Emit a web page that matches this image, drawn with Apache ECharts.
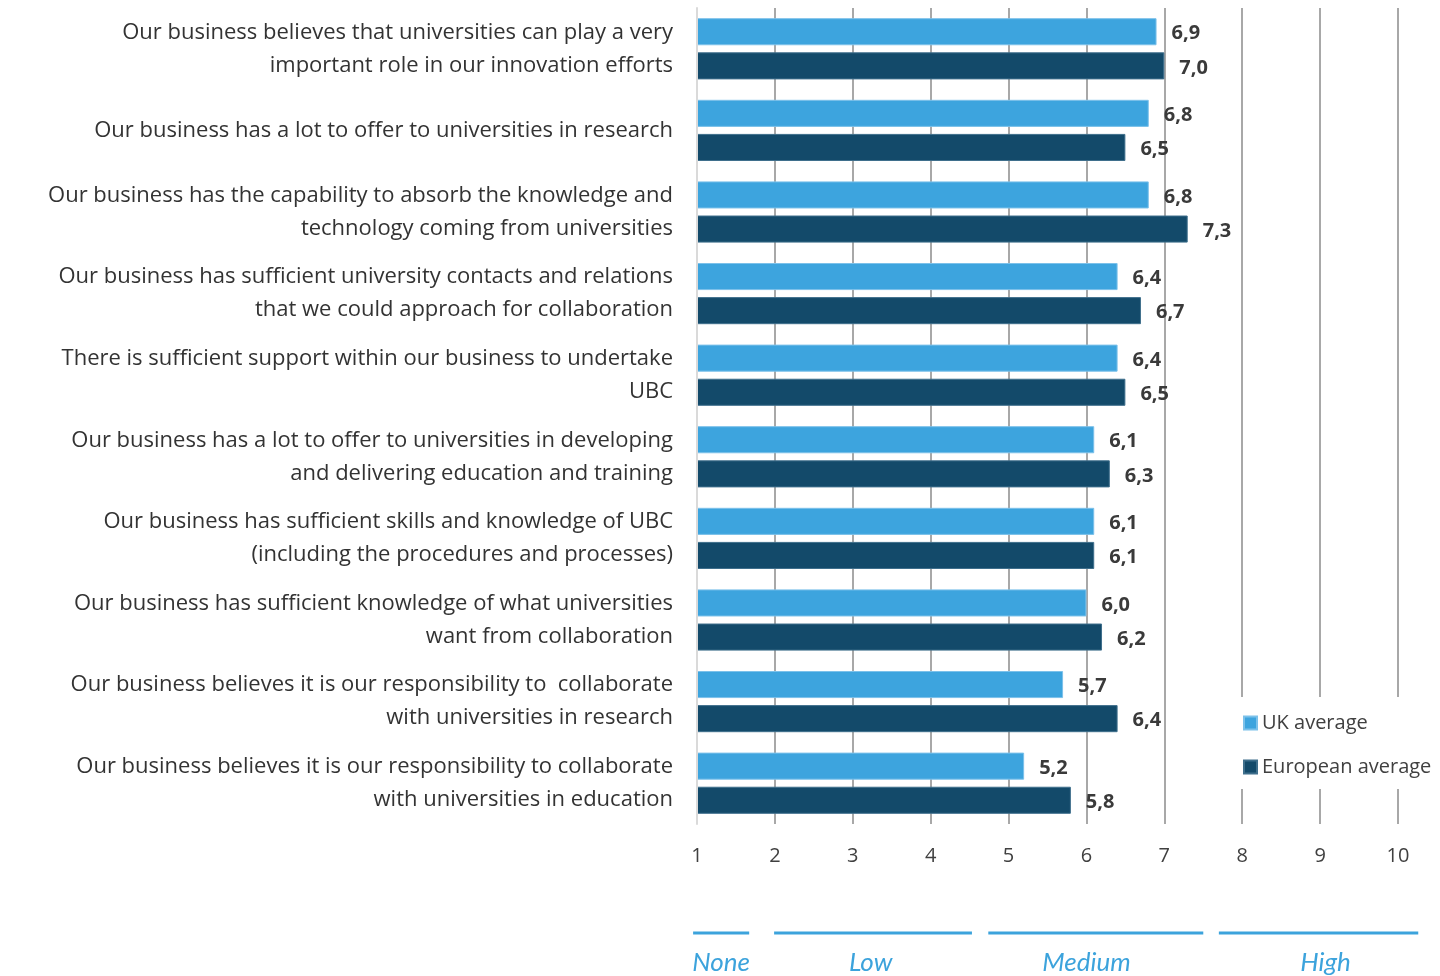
<!DOCTYPE html>
<html>
<head>
<meta charset="utf-8">
<script src="https://cdn.jsdelivr.net/npm/echarts@6/dist/echarts.min.js"></script>
<style>
  html, body { margin: 0; padding: 0; background: #fff; }
  #chart { width: 1440px; height: 976px; }
</style>
</head>
<body>
<div id="chart"></div>
<script>
// Survey statements (top to bottom)
const categories = [
  'Our business believes that universities can play a very\nimportant role in our innovation efforts',
  'Our business has a lot to offer to universities in research',
  'Our business has the capability to absorb the knowledge and\ntechnology coming from universities',
  'Our business has sufficient university contacts and relations\nthat we could approach for collaboration',
  'There is sufficient support within our business to undertake\nUBC',
  'Our business has a lot to offer to universities in developing\nand delivering education and training',
  'Our business has sufficient skills and knowledge of UBC\n(including the procedures and processes)',
  'Our business has sufficient knowledge of what universities\nwant from collaboration',
  'Our business believes it is our responsibility to  collaborate\nwith universities in research',
  'Our business believes it is our responsibility to collaborate\nwith universities in education'
];

const seriesNames = ['UK average', 'European average'];
const ukAverage = [6.9, 6.8, 6.8, 6.4, 6.4, 6.1, 6.1, 6.0, 5.7, 5.2];
const europeanAverage = [7.0, 6.5, 7.3, 6.7, 6.5, 6.3, 6.1, 6.2, 6.4, 5.8];

// Scale 1–10 and its verbal bands shown under the axis
const scaleTicks = [1, 2, 3, 4, 5, 6, 7, 8, 9, 10];
const bandNames = ['None', 'Low', 'Medium', 'High'];
const bandFrom = [0.95, 1.99, 4.74, 7.7];
const bandTo = [1.67, 4.53, 7.5, 10.26];
const bandLabelAt = [1.31, 3.23, 6.0, 9.07];

const FONT = 'Lato, "Noto Sans", sans-serif';
const TEXT_FONT = '"Open Sans", Lato, sans-serif';
const chart = echarts.init(document.getElementById('chart'), null, { renderer: 'canvas' });

const valueLabel = {
  show: true,
  position: 'right',
  distance: 15,
  offset: [0, 2],
  fontFamily: TEXT_FONT,
  fontSize: 20,
  fontWeight: 'bold',
  color: '#3a3a3a',
  formatter: p => p.value.toFixed(1).replace('.', ',')
};

chart.setOption({
  animation: false,
  textStyle: { fontFamily: FONT },
  grid: { left: 697, right: 42, top: 8, bottom: 152, containLabel: false },
  legend: {
    data: seriesNames,
    orient: 'vertical',
    left: 1236,
    top: 697,
    padding: [16, 2, 12, 7],
    backgroundColor: '#ffffff',
    itemWidth: 13,
    itemHeight: 13,
    itemGap: 24,
    itemTextGap: 6,
    icon: 'rect',
    textStyle: { fontFamily: TEXT_FONT, fontSize: 20, color: '#404040' },
    z: 10
  },
  xAxis: {
    type: 'value',
    min: scaleTicks[0],
    max: scaleTicks[scaleTicks.length - 1],
    interval: 1,
    axisLine: { show: false },
    axisTick: { show: false },
    axisLabel: { fontFamily: TEXT_FONT, fontSize: 20, color: '#404040', margin: 22 },
    splitLine: { show: true, lineStyle: { color: '#a8a8a8', width: 2 } }
  },
  yAxis: {
    type: 'category',
    inverse: true,
    data: categories,
    axisLine: { show: true, lineStyle: { color: '#dadada', width: 2 } },
    axisTick: { show: false },
    z: 5,
    axisLabel: {
      fontFamily: TEXT_FONT,
      fontSize: 22,
      lineHeight: 33,
      color: '#333333',
      margin: 24,
      align: 'right'
    }
  },
  series: [
    {
      name: seriesNames[0],
      type: 'bar',
      data: ukAverage,
      barCategoryGap: '25%',
      barGap: '26%',
      itemStyle: { color: '#3da4de', borderColor: '#7cc1ea', borderWidth: 1 },
      label: valueLabel
    },
    {
      name: seriesNames[1],
      type: 'bar',
      data: europeanAverage,
      barCategoryGap: '25%',
      barGap: '26%',
      itemStyle: { color: '#134a6a', borderColor: '#3f6f8c', borderWidth: 1 },
      label: valueLabel
    }
  ]
});

// Verbal bands below the axis, positioned through the value axis
const graphics = [];
bandNames.forEach((name, i) => {
  const x1 = chart.convertToPixel({ xAxisIndex: 0 }, bandFrom[i]);
  const x2 = chart.convertToPixel({ xAxisIndex: 0 }, bandTo[i]);
  const xc = chart.convertToPixel({ xAxisIndex: 0 }, bandLabelAt[i]);
  graphics.push({
    type: 'line',
    shape: { x1: x1, y1: 933, x2: x2, y2: 933 },
    style: { stroke: '#3ca3dc', lineWidth: 3 }
  });
  graphics.push({
    type: 'text',
    x: xc,
    y: 963,
    style: {
      text: name,
      fill: '#3ca3dc',
      font: 'italic 26px ' + FONT,
      textAlign: 'center',
      textVerticalAlign: 'middle'
    }
  });
});
chart.setOption({ graphic: graphics });
</script>
</body>
</html>
